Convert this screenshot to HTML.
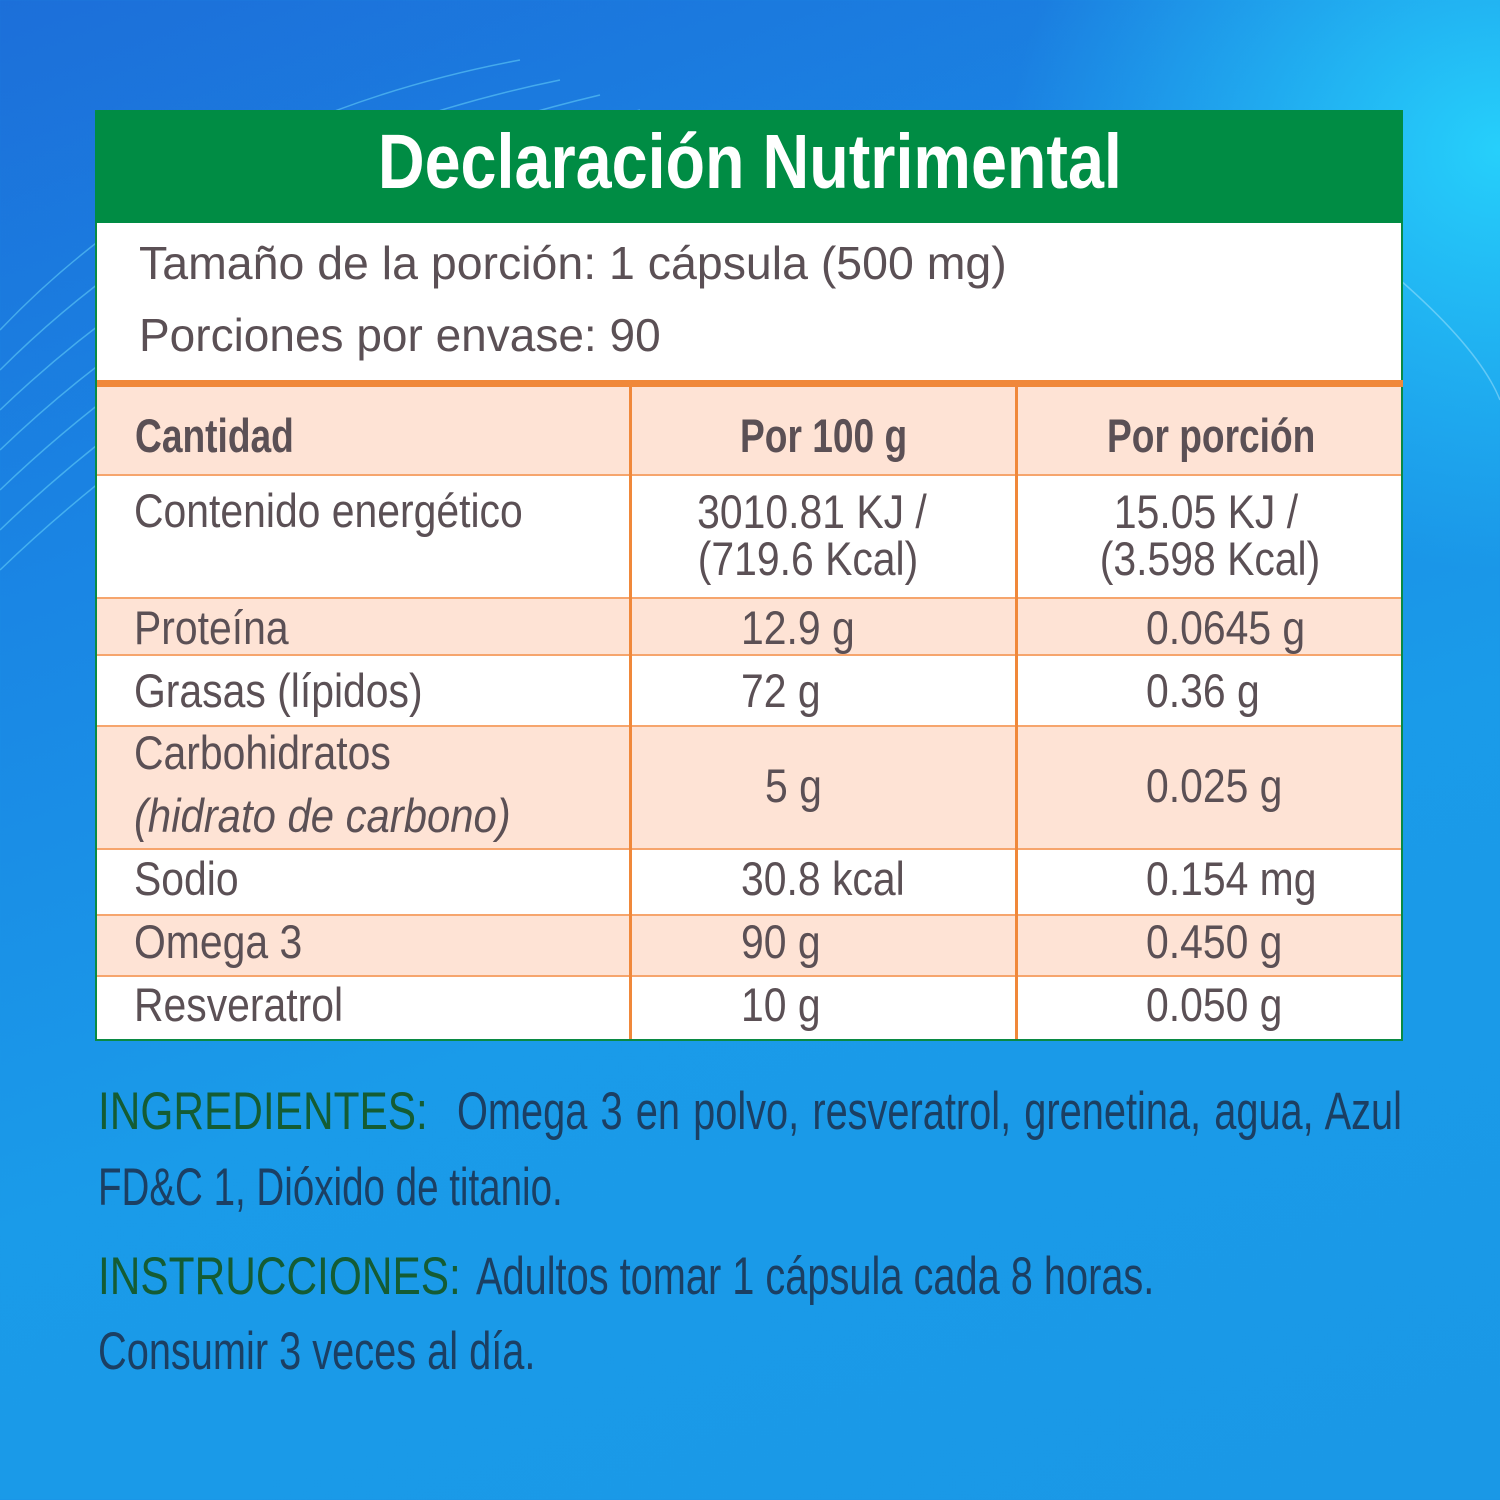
<!DOCTYPE html>
<html><head><meta charset="utf-8"><style>
body{margin:0;width:1500px;height:1500px;overflow:hidden;position:relative;font-family:"Liberation Sans",sans-serif;
background:linear-gradient(160deg,#1c6fd9 0%,#1a86e4 30%,#1a9be9 60%,#1a98e6 100%);}
.bg2{position:absolute;inset:0;background:radial-gradient(ellipse 700px 600px at 1500px 150px,rgba(40,220,255,.85),rgba(40,220,255,0) 70%);}
.t{position:absolute;white-space:nowrap;line-height:1;transform-origin:left top;color:#5b5055;}
.c{position:absolute;white-space:nowrap;line-height:1;transform-origin:center top;color:#5b5055;text-align:center;width:600px;}
.r{font-size:47px;transform:scaleX(.87);}
.b{font-size:47px;font-weight:bold;transform:scaleX(.79);}
.ing{font-size:53px;color:#1b3f63;line-height:1;position:absolute;white-space:nowrap;}
.ing span{display:inline-block;transform-origin:left top;}
.g{color:#145c34;transform:scaleX(.80);}
.w{transform:scaleX(.75);}
</style></head><body>
<div class="bg2"></div>
<svg width="1500" height="1500" style="position:absolute;left:0;top:0" fill="none" stroke="rgba(120,230,255,.45)" stroke-width="1.5">
<path d="M0 330 Q200 120 520 60"/><path d="M0 370 Q220 150 560 80"/><path d="M0 410 Q240 180 600 95"/><path d="M0 450 Q250 210 640 110"/><path d="M0 490 Q260 240 680 120"/><path d="M0 530 Q270 270 720 130"/><path d="M0 570 Q280 300 760 140"/>
<path d="M1400 280 Q1480 350 1500 400" stroke="rgba(200,240,255,.4)"/>
</svg>
<div style="position:absolute;left:95px;top:110px;width:1308px;height:931px;background:#fff;border:2px solid #0a8a44;box-sizing:border-box;"></div>
<div style="position:absolute;left:95px;top:110px;width:1308px;height:113px;background:#008c44;border-radius:4px 4px 0 0;"></div>
<div style="position:absolute;left:97px;top:387px;width:1304px;height:87px;background:#fee3d5"></div>
<div style="position:absolute;left:97px;top:598px;width:1304px;height:56px;background:#fee3d5"></div>
<div style="position:absolute;left:97px;top:725px;width:1304px;height:124px;background:#fee3d5"></div>
<div style="position:absolute;left:97px;top:914px;width:1304px;height:62px;background:#fee3d5"></div>
<div style="position:absolute;left:97px;top:380px;width:1306px;height:7px;background:#f0883a"></div>
<div style="position:absolute;left:97px;top:474px;width:1304px;height:2px;background:#f6a56d"></div>
<div style="position:absolute;left:97px;top:597px;width:1304px;height:2px;background:#f6a56d"></div>
<div style="position:absolute;left:97px;top:654px;width:1304px;height:2px;background:#f6a56d"></div>
<div style="position:absolute;left:97px;top:725px;width:1304px;height:2px;background:#f6a56d"></div>
<div style="position:absolute;left:97px;top:848px;width:1304px;height:2px;background:#f6a56d"></div>
<div style="position:absolute;left:97px;top:914px;width:1304px;height:2px;background:#f6a56d"></div>
<div style="position:absolute;left:97px;top:975px;width:1304px;height:2px;background:#f6a56d"></div>
<div style="position:absolute;left:629px;top:387px;width:3px;height:652px;background:#f0883a"></div>
<div style="position:absolute;left:1015px;top:387px;width:3px;height:652px;background:#f0883a"></div>
<div style="position:absolute;left:0;top:124px;width:1500px;text-align:center;line-height:1;"><span style="display:inline-block;font-size:77px;font-weight:bold;color:#fff;transform:scaleX(.84);transform-origin:center top;">Declaración Nutrimental</span></div>
<div class="t" style="left:139px;top:240px;font-size:46px;transform:scaleX(1.01);">Tamaño de la porción: 1 cápsula (500 mg)</div>
<div class="t" style="left:139px;top:312px;font-size:46px;">Porciones por envase: 90</div>
<div class="t b" style="left:135px;top:412px;">Cantidad</div>
<div class="t b" style="left:740px;top:412px;">Por 100 g</div>
<div class="t b" style="left:1107px;top:412px;">Por porción</div>
<div class="t r" style="left:134px;top:487px;">Contenido energético</div>
<div class="c r" style="left:512px;top:488px;">3010.81 KJ /</div>
<div class="c r" style="left:508px;top:535px;">(719.6 Kcal)</div>
<div class="c r" style="left:906px;top:488px;">15.05 KJ /</div>
<div class="c r" style="left:910px;top:535px;">(3.598 Kcal)</div>
<div class="t r" style="left:134px;top:604px;">Proteína</div>
<div class="t r" style="left:741px;top:604px;">12.9 g</div>
<div class="t r" style="left:1146px;top:604px;">0.0645 g</div>
<div class="t r" style="left:134px;top:667px;">Grasas (lípidos)</div>
<div class="t r" style="left:741px;top:667px;">72 g</div>
<div class="t r" style="left:1146px;top:667px;">0.36 g</div>
<div class="t r" style="left:134px;top:729px;">Carbohidratos</div>
<div class="t r" style="left:134px;top:792px;font-style:italic;transform:scaleX(.89);">(hidrato de carbono)</div>
<div class="t r" style="left:765px;top:762px;">5 g</div>
<div class="t r" style="left:1146px;top:762px;">0.025 g</div>
<div class="t r" style="left:134px;top:855px;">Sodio</div>
<div class="t r" style="left:741px;top:855px;">30.8 kcal</div>
<div class="t r" style="left:1146px;top:855px;">0.154 mg</div>
<div class="t r" style="left:134px;top:918px;">Omega 3</div>
<div class="t r" style="left:741px;top:918px;">90 g</div>
<div class="t r" style="left:1146px;top:918px;">0.450 g</div>
<div class="t r" style="left:134px;top:981px;">Resveratrol</div>
<div class="t r" style="left:741px;top:981px;">10 g</div>
<div class="t r" style="left:1146px;top:981px;">0.050 g</div>
<div class="ing" style="left:98px;top:1085px;"><span class="g">INGREDIENTES:</span></div>
<div class="ing" style="left:457px;top:1085px;width:1260px;"><span class="w" style="width:1260px;text-align:justify;text-align-last:justify;white-space:nowrap;display:block;">Omega 3 en polvo, resveratrol, grenetina, agua, Azul</span></div>
<div class="ing" style="left:98px;top:1161px;"><span class="w" style="transform:scaleX(.727)">FD&amp;C 1, Dióxido de titanio.</span></div>
<div class="ing" style="left:98px;top:1250px;"><span class="g">INSTRUCCIONES:</span></div>
<div class="ing" style="left:476px;top:1250px;"><span class="w">Adultos tomar 1 cápsula cada 8 horas.</span></div>
<div class="ing" style="left:98px;top:1325px;"><span class="w">Consumir 3 veces al día.</span></div>
</body></html>
